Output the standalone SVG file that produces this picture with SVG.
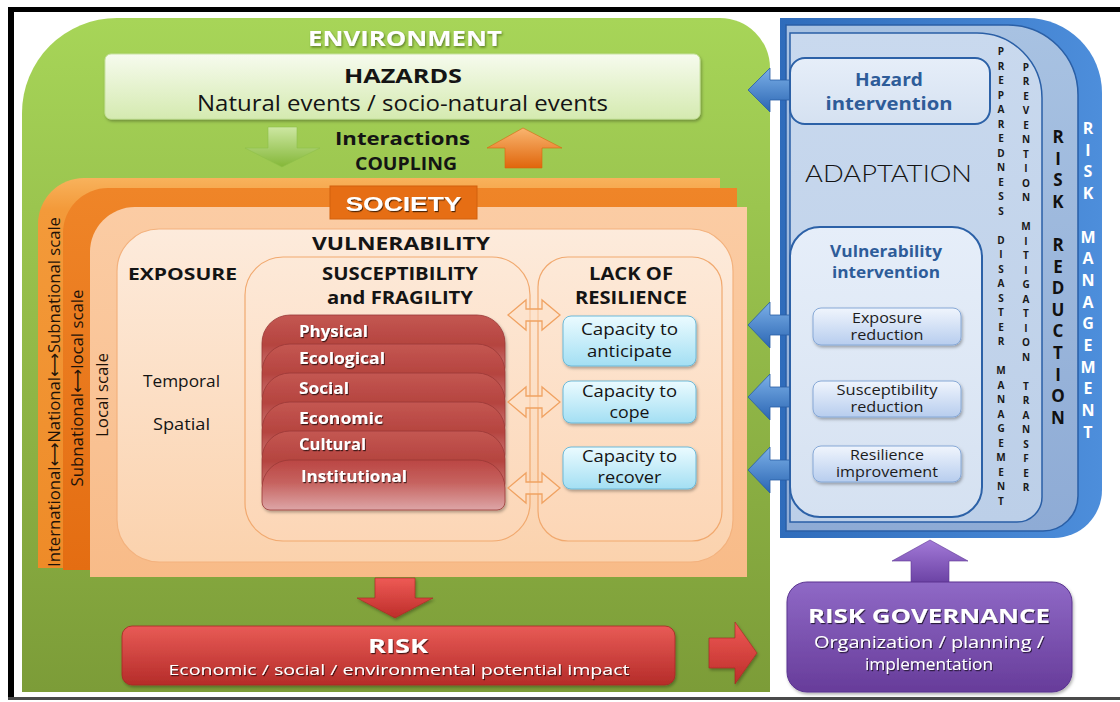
<svg xmlns="http://www.w3.org/2000/svg" width="1120" height="702" viewBox="0 0 1120 702">
<defs>
  <linearGradient id="gEnv" x1="0" y1="0" x2="0" y2="1">
    <stop offset="0" stop-color="#a7d558"/><stop offset="1" stop-color="#7c9c38"/>
  </linearGradient>
  <linearGradient id="gHaz" x1="0" y1="0" x2="0" y2="1">
    <stop offset="0" stop-color="#f6fbee"/><stop offset="1" stop-color="#d5eab0"/>
  </linearGradient>
  <linearGradient id="gGreenArrow" x1="0" y1="0" x2="0" y2="1">
    <stop offset="0" stop-color="#cde7a2"/><stop offset="1" stop-color="#84b738"/>
  </linearGradient>
  <linearGradient id="gOrangeArrow" x1="0" y1="0" x2="0" y2="1">
    <stop offset="0" stop-color="#f9b570"/><stop offset="1" stop-color="#e0660c"/>
  </linearGradient>
  <linearGradient id="gL1" x1="0" y1="0" x2="0" y2="1">
    <stop offset="0" stop-color="#f8b25c"/><stop offset="0.08" stop-color="#f39a3a"/><stop offset="1" stop-color="#ee8b28"/>
  </linearGradient>
  <linearGradient id="gL2" x1="0" y1="0" x2="0" y2="1">
    <stop offset="0" stop-color="#ef8528"/><stop offset="1" stop-color="#e46d12"/>
  </linearGradient>
  <linearGradient id="gL3" x1="0" y1="0" x2="0" y2="1">
    <stop offset="0" stop-color="#fbcca4"/><stop offset="1" stop-color="#f8bb88"/>
  </linearGradient>
  <linearGradient id="gVul" x1="0" y1="0" x2="0" y2="1">
    <stop offset="0" stop-color="#fdebdc"/><stop offset="1" stop-color="#fbd2ad"/>
  </linearGradient>
  <linearGradient id="gSub" x1="0" y1="0" x2="0" y2="1">
    <stop offset="0" stop-color="#fde9d8"/><stop offset="1" stop-color="#fcd6b6"/>
  </linearGradient>
  <linearGradient id="gRed" x1="0" y1="0" x2="0" y2="1">
    <stop offset="0" stop-color="#c45752"/><stop offset="0.5" stop-color="#b5443f"/><stop offset="1" stop-color="#cf7f7d"/>
  </linearGradient>
  <linearGradient id="gRedLast" x1="0" y1="0" x2="0" y2="1">
    <stop offset="0" stop-color="#bb4643"/><stop offset="0.45" stop-color="#c6625f"/><stop offset="1" stop-color="#dda6a7"/>
  </linearGradient>
  <linearGradient id="gCap" x1="0" y1="0" x2="0" y2="1">
    <stop offset="0" stop-color="#ebfbff"/><stop offset="1" stop-color="#a3dff3"/>
  </linearGradient>
  <linearGradient id="gRiskBox" x1="0" y1="0" x2="0" y2="1">
    <stop offset="0" stop-color="#e85b56"/><stop offset="1" stop-color="#b52c29"/>
  </linearGradient>
  <linearGradient id="gRedArrow" x1="0" y1="0" x2="0" y2="1">
    <stop offset="0" stop-color="#ee5a55"/><stop offset="1" stop-color="#bd2d2a"/>
  </linearGradient>
  <linearGradient id="gBlueOuter" x1="0" y1="0" x2="1" y2="0">
    <stop offset="0" stop-color="#2f6cbb"/><stop offset="1" stop-color="#4d8edb"/>
  </linearGradient>
  <linearGradient id="gBlueL2" x1="0" y1="0" x2="0" y2="1">
    <stop offset="0" stop-color="#a8c2e2"/><stop offset="1" stop-color="#8eabd5"/>
  </linearGradient>
  <linearGradient id="gPanel" x1="0" y1="0" x2="0" y2="1">
    <stop offset="0" stop-color="#c9d9ee"/><stop offset="1" stop-color="#bccfe8"/>
  </linearGradient>
  <linearGradient id="gBox" x1="0" y1="0" x2="0" y2="1">
    <stop offset="0" stop-color="#e6eef9"/><stop offset="1" stop-color="#d5e1f1"/>
  </linearGradient>
  <linearGradient id="gSmall" x1="0" y1="0" x2="0" y2="1">
    <stop offset="0" stop-color="#f0f5fd"/><stop offset="1" stop-color="#b7cdee"/>
  </linearGradient>
  <linearGradient id="gBlueArrow" x1="0" y1="0" x2="0" y2="1">
    <stop offset="0" stop-color="#7cb0e8"/><stop offset="1" stop-color="#2b66b3"/>
  </linearGradient>
  <linearGradient id="gPurple" x1="0" y1="0" x2="0" y2="1">
    <stop offset="0" stop-color="#8f69c6"/><stop offset="1" stop-color="#673c9a"/>
  </linearGradient>
  <linearGradient id="gPurpleArrow" x1="0" y1="0" x2="0" y2="1">
    <stop offset="0" stop-color="#a37ad8"/><stop offset="1" stop-color="#6b42a4"/>
  </linearGradient>
  <filter id="ds" x="-10%" y="-20%" width="125%" height="150%">
    <feDropShadow dx="1.2" dy="2" stdDeviation="1.4" flood-color="#000" flood-opacity="0.3"/>
  </filter>
  <filter id="ts" x="-5%" y="-20%" width="115%" height="150%">
    <feDropShadow dx="1" dy="1.2" stdDeviation="0.5" flood-color="#000" flood-opacity="0.65"/>
  </filter>
  <filter id="tsg" x="-5%" y="-20%" width="115%" height="150%">
    <feDropShadow dx="1" dy="1.5" stdDeviation="0.8" flood-color="#3d5a16" flood-opacity="0.7"/>
  </filter>
</defs>
<style>
  text{font-family:"Open Sans","Liberation Sans",Arial,sans-serif;fill:#141414}
  .b{font-weight:700}
  .m{text-anchor:middle}
  .w{fill:#fff}
  .sh{filter:url(#ts)}
  .pane{fill:url(#gSub);stroke:#f1a96f;stroke-width:1.2}
  .red{fill:url(#gRed);stroke:#9b3836;stroke-width:0.8}
  .rl{font-size:16.5px;font-weight:700;fill:#fff;filter:url(#ts)}
  .cap{fill:url(#gCap);stroke:#6cb9d8;stroke-width:1;filter:url(#ds)}
  .ct{font-size:16.5px;text-anchor:middle}
  .dbl{fill:#fde2ca;fill-opacity:0.55;stroke:#f0a262;stroke-width:1.3}
  .sm{fill:url(#gSmall);stroke:#86a8d6;stroke-width:1;filter:url(#ds)}
  .st{font-size:14.5px;text-anchor:middle;fill:#1c1c1c}
  .ib{fill:url(#gBox);stroke:#2c61a7;stroke-width:2}
  .it{font-size:17.5px;font-weight:700;text-anchor:middle;fill:#2e5c99}
  .ba{fill:url(#gBlueArrow);stroke:#2a5ea5;stroke-width:0.8}
  .ca{font-size:10px;font-weight:700;text-anchor:middle;fill:#1a1a1a}
  .cr{font-size:17px;font-weight:700;text-anchor:middle;fill:#111}
  .cm{font-size:16px;font-weight:700;text-anchor:middle;fill:#fff}
  .sc{font-family:"Open Sans","Liberation Sans",Arial,sans-serif;font-size:16.5px;text-anchor:middle;fill:#1e1208}
  .arr{font-family:"DejaVu Sans",sans-serif;font-size:16.5px}
</style>

<rect x="0" y="0" width="1120" height="702" fill="#fff"/>
<!-- frame -->
<rect x="8" y="7" width="1112" height="5" fill="#000"/>
<rect x="8" y="7" width="6" height="693" fill="#000"/>
<rect x="8" y="697" width="1112" height="3" fill="#4a4a4a"/>

<!-- environment -->
<g id="environment">
  <path d="M22,113 A95,95 0 0 1 117,18 H720 A50,50 0 0 1 770,68 V692 H22 Z" fill="url(#gEnv)"/>
  <text x="405" y="46" class="b m w" font-size="21" textLength="194" lengthAdjust="spacingAndGlyphs" filter="url(#tsg)">ENVIRONMENT</text>
</g>

<!-- hazards -->
<g id="hazards">
  <rect x="105" y="54" width="595" height="65" rx="6" fill="url(#gHaz)" stroke="#c7e2a0" stroke-width="1" filter="url(#ds)"/>
  <text x="403" y="83" class="b m" font-size="20" textLength="118" lengthAdjust="spacingAndGlyphs">HAZARDS</text>
  <text x="402.5" y="111" class="m" font-size="21.5" textLength="411" lengthAdjust="spacingAndGlyphs">Natural events / socio-natural events</text>
</g>

<g id="interactions">
  <text x="402.5" y="145" class="b m" font-size="18.5" textLength="135" lengthAdjust="spacingAndGlyphs">Interactions</text>
  <text x="406" y="170" class="b m" font-size="17" textLength="102" lengthAdjust="spacingAndGlyphs">COUPLING</text>
</g>

<!-- society: nested scale layers -->
<g id="society">
  <path d="M38,568 V224 A46,46 0 0 1 84,178 H720 V568 Z" fill="url(#gL1)"/>
  <path d="M63,570 V233 A45,45 0 0 1 108,188 H737 V570 Z" fill="url(#gL2)"/>
  <path d="M90,577 V252 A45,45 0 0 1 135,207 H747 V577 Z" fill="url(#gL3)"/>
  <text transform="translate(60,392) rotate(-90)" class="sc" textLength="350" lengthAdjust="spacingAndGlyphs">International<tspan class="arr">⟷</tspan>National<tspan class="arr">⟷</tspan>Subnational scale</text>
  <text transform="translate(83,388) rotate(-90)" class="sc" textLength="197" lengthAdjust="spacingAndGlyphs">Subnational<tspan class="arr">⟷</tspan>local scale</text>
  <text transform="translate(108,395) rotate(-90)" class="sc" textLength="84" lengthAdjust="spacingAndGlyphs">Local scale</text>
  <rect x="330" y="186" width="147" height="33" fill="#e66e14" stroke="#d2600c" stroke-width="1"/>
  <text x="403.5" y="211" class="b m w sh" font-size="21" style="font-family:'Liberation Sans',Arial,sans-serif" textLength="116" lengthAdjust="spacingAndGlyphs">SOCIETY</text>
</g>

<!-- vulnerability -->
<g id="vulnerability">
  <rect x="117" y="229" width="616" height="333" rx="42" fill="url(#gVul)" stroke="#f3b27e" stroke-width="1.2"/>
  <text x="401" y="250" class="b m" font-size="18" textLength="178" lengthAdjust="spacingAndGlyphs">VULNERABILITY</text>
</g>

<g id="exposure">
  <text x="182.5" y="280" class="b m" font-size="16.5" textLength="109" lengthAdjust="spacingAndGlyphs">EXPOSURE</text>
  <text x="181.5" y="387" class="m" font-size="16" textLength="77" lengthAdjust="spacingAndGlyphs">Temporal</text>
  <text x="181.5" y="430" class="m" font-size="16" textLength="57" lengthAdjust="spacingAndGlyphs">Spatial</text>
</g>

<g id="susceptibility">
  <rect class="pane" x="245" y="257" width="285" height="284" rx="38"/>
  <text x="400" y="280" class="b m" font-size="18" textLength="156" lengthAdjust="spacingAndGlyphs">SUSCEPTIBILITY</text>
  <text x="400" y="304" class="b m" font-size="18" textLength="146" lengthAdjust="spacingAndGlyphs">and FRAGILITY</text>
  <g filter="url(#ds)">
    <path class="red" d="M262,367 V343 A28,28 0 0 1 290,315 H477 A28,28 0 0 1 505,343 V367 A8,8 0 0 1 497,375 H270 A8,8 0 0 1 262,367 Z"/>
    <path class="red" d="M262,396 V372 A28,28 0 0 1 290,344 H477 A28,28 0 0 1 505,372 V396 A8,8 0 0 1 497,404 H270 A8,8 0 0 1 262,396 Z"/>
    <path class="red" d="M262,425 V401 A28,28 0 0 1 290,373 H477 A28,28 0 0 1 505,401 V425 A8,8 0 0 1 497,433 H270 A8,8 0 0 1 262,425 Z"/>
    <path class="red" d="M262,454 V430 A28,28 0 0 1 290,402 H477 A28,28 0 0 1 505,430 V454 A8,8 0 0 1 497,462 H270 A8,8 0 0 1 262,454 Z"/>
    <path class="red" d="M262,483 V459 A28,28 0 0 1 290,431 H477 A28,28 0 0 1 505,459 V483 A8,8 0 0 1 497,491 H270 A8,8 0 0 1 262,483 Z"/>
    <path d="M262,502 V488 A28,28 0 0 1 290,460 H477 A28,28 0 0 1 505,488 V502 A8,8 0 0 1 497,510 H270 A8,8 0 0 1 262,502 Z" fill="url(#gRedLast)" stroke="#9b3836" stroke-width="0.8"/>
  </g>
  <text x="299" y="337" class="rl" textLength="69" lengthAdjust="spacingAndGlyphs">Physical</text>
  <text x="299" y="364" class="rl" textLength="86" lengthAdjust="spacingAndGlyphs">Ecological</text>
  <text x="299" y="394" class="rl" textLength="50" lengthAdjust="spacingAndGlyphs">Social</text>
  <text x="299" y="424" class="rl" textLength="84" lengthAdjust="spacingAndGlyphs">Economic</text>
  <text x="299" y="450" class="rl" textLength="67" lengthAdjust="spacingAndGlyphs">Cultural</text>
  <text x="301" y="482" class="rl" textLength="106" lengthAdjust="spacingAndGlyphs">Institutional</text>
</g>

<g id="resilience">
  <rect class="pane" x="538" y="257" width="184" height="284" rx="30"/>
  <text x="631" y="280" class="b m" font-size="18" textLength="84" lengthAdjust="spacingAndGlyphs">LACK OF</text>
  <text x="631" y="304" class="b m" font-size="18" textLength="112" lengthAdjust="spacingAndGlyphs">RESILIENCE</text>
  <rect class="cap" x="563" y="316" width="133" height="50" rx="8"/>
  <text x="629.5" y="335" class="ct" textLength="97" lengthAdjust="spacingAndGlyphs">Capacity to</text>
  <text x="629.5" y="357" class="ct" textLength="85" lengthAdjust="spacingAndGlyphs">anticipate</text>
  <rect class="cap" x="563" y="381" width="133" height="42" rx="8"/>
  <text x="629.5" y="397" class="ct" textLength="95" lengthAdjust="spacingAndGlyphs">Capacity to</text>
  <text x="629.5" y="418" class="ct" textLength="40" lengthAdjust="spacingAndGlyphs">cope</text>
  <rect class="cap" x="563" y="447" width="133" height="42" rx="8"/>
  <text x="629.5" y="462" class="ct" textLength="95" lengthAdjust="spacingAndGlyphs">Capacity to</text>
  <text x="629.5" y="483" class="ct" textLength="64" lengthAdjust="spacingAndGlyphs">recover</text>
</g>

<!-- risk -->
<g id="risk">
  <rect x="122" y="626" width="553" height="59" rx="10" fill="url(#gRiskBox)" stroke="#a82624" stroke-width="0.8" filter="url(#ds)"/>
  <text x="398" y="653" class="b m w sh" font-size="20" textLength="60" lengthAdjust="spacingAndGlyphs">RISK</text>
  <text x="399" y="675" class="m w sh" font-size="15" textLength="461" lengthAdjust="spacingAndGlyphs">Economic / social / environmental potential impact</text>
</g>

<!-- risk management: nested management layers -->
<g id="risk-management">
  <path d="M780,18 H1027 A75,75 0 0 1 1102,93 V490 A48,48 0 0 1 1054,538 H780 Z" fill="url(#gBlueOuter)"/>
  <path d="M786,25 H1008 A70,70 0 0 1 1078,95 V496 A35,35 0 0 1 1043,531 H786 Z" fill="url(#gBlueL2)" stroke="#2a5fa6" stroke-width="1.5"/>
  <path d="M790,33 H977 A65,65 0 0 1 1042,98 V497 A25,25 0 0 1 1017,522 H790 Z" fill="url(#gPanel)" stroke="#2a5fa6" stroke-width="1.5"/>
  <text x="805" y="182" font-size="23" fill="#1c1c1c" style="font-family:Lato,'Liberation Sans',sans-serif;font-weight:300" textLength="167" lengthAdjust="spacingAndGlyphs">ADAPTATION</text>
  <text class="ca"><tspan x="1001" y="55">P</tspan><tspan x="1001" dy="14.5">R</tspan><tspan x="1001" dy="14.5">E</tspan><tspan x="1001" dy="14.5">P</tspan><tspan x="1001" dy="14.5">A</tspan><tspan x="1001" dy="14.5">R</tspan><tspan x="1001" dy="14.5">E</tspan><tspan x="1001" dy="14.5">D</tspan><tspan x="1001" dy="14.5">N</tspan><tspan x="1001" dy="14.5">E</tspan><tspan x="1001" dy="14.5">S</tspan><tspan x="1001" dy="14.5">S</tspan><tspan x="1001" dy="29">D</tspan><tspan x="1001" dy="14.5">I</tspan><tspan x="1001" dy="14.5">S</tspan><tspan x="1001" dy="14.5">A</tspan><tspan x="1001" dy="14.5">S</tspan><tspan x="1001" dy="14.5">T</tspan><tspan x="1001" dy="14.5">E</tspan><tspan x="1001" dy="14.5">R</tspan><tspan x="1001" dy="29">M</tspan><tspan x="1001" dy="14.5">A</tspan><tspan x="1001" dy="14.5">N</tspan><tspan x="1001" dy="14.5">A</tspan><tspan x="1001" dy="14.5">G</tspan><tspan x="1001" dy="14.5">E</tspan><tspan x="1001" dy="14.5">M</tspan><tspan x="1001" dy="14.5">E</tspan><tspan x="1001" dy="14.5">N</tspan><tspan x="1001" dy="14.5">T</tspan></text>
  <text class="ca"><tspan x="1026" y="70.5">P</tspan><tspan x="1026" dy="14.5">R</tspan><tspan x="1026" dy="14.5">E</tspan><tspan x="1026" dy="14.5">V</tspan><tspan x="1026" dy="14.5">E</tspan><tspan x="1026" dy="14.5">N</tspan><tspan x="1026" dy="14.5">T</tspan><tspan x="1026" dy="14.5">I</tspan><tspan x="1026" dy="14.5">O</tspan><tspan x="1026" dy="14.5">N</tspan><tspan x="1026" dy="29">M</tspan><tspan x="1026" dy="14.5">I</tspan><tspan x="1026" dy="14.5">T</tspan><tspan x="1026" dy="14.5">I</tspan><tspan x="1026" dy="14.5">G</tspan><tspan x="1026" dy="14.5">A</tspan><tspan x="1026" dy="14.5">T</tspan><tspan x="1026" dy="14.5">I</tspan><tspan x="1026" dy="14.5">O</tspan><tspan x="1026" dy="14.5">N</tspan><tspan x="1026" dy="29">T</tspan><tspan x="1026" dy="14.5">R</tspan><tspan x="1026" dy="14.5">A</tspan><tspan x="1026" dy="14.5">N</tspan><tspan x="1026" dy="14.5">S</tspan><tspan x="1026" dy="14.5">F</tspan><tspan x="1026" dy="14.5">E</tspan><tspan x="1026" dy="14.5">R</tspan></text>
  <text class="cr"><tspan x="1058" y="143">R</tspan><tspan x="1058" dy="21.6">I</tspan><tspan x="1058" dy="21.6">S</tspan><tspan x="1058" dy="21.6">K</tspan><tspan x="1058" dy="43.2">R</tspan><tspan x="1058" dy="21.6">E</tspan><tspan x="1058" dy="21.6">D</tspan><tspan x="1058" dy="21.6">U</tspan><tspan x="1058" dy="21.6">C</tspan><tspan x="1058" dy="21.6">T</tspan><tspan x="1058" dy="21.6">I</tspan><tspan x="1058" dy="21.6">O</tspan><tspan x="1058" dy="21.6">N</tspan></text>
  <text class="cm"><tspan x="1088" y="134">R</tspan><tspan x="1088" dy="21.7">I</tspan><tspan x="1088" dy="21.7">S</tspan><tspan x="1088" dy="21.7">K</tspan><tspan x="1088" dy="43.4">M</tspan><tspan x="1088" dy="21.7">A</tspan><tspan x="1088" dy="21.7">N</tspan><tspan x="1088" dy="21.7">A</tspan><tspan x="1088" dy="21.7">G</tspan><tspan x="1088" dy="21.7">E</tspan><tspan x="1088" dy="21.7">M</tspan><tspan x="1088" dy="21.7">E</tspan><tspan x="1088" dy="21.7">N</tspan><tspan x="1088" dy="21.7">T</tspan></text>
</g>

<!-- connectors -->
<g id="connectors">
  <path d="M268,127 H297 V148 H320 L282,167 L245,148 H268 Z" fill="url(#gGreenArrow)" stroke="#8fbf4a" stroke-width="0.6"/>
  <path d="M523,128 L562,148 H542 V168 H505 V148 H487 Z" fill="url(#gOrangeArrow)" stroke="#d8650f" stroke-width="0.6"/>
  <path class="dbl" d="M508,315 L526,300 V309 H542 V300 L560,315 L542,330 V321 H526 V330 Z"/>
  <path class="dbl" d="M508,402 L526,387 V396 H542 V387 L560,402 L542,417 V408 H526 V417 Z"/>
  <path class="dbl" d="M508,488 L526,473 V482 H542 V473 L560,488 L542,503 V494 H526 V503 Z"/>
  <path d="M375,578 H415 V598 H433 L395,618 L357,598 H375 Z" fill="url(#gRedArrow)" stroke="#a52724" stroke-width="0.6" filter="url(#ds)"/>
  <path d="M709,638 H735 V622 L757,653 L735,684 V668 H709 Z" fill="url(#gRedArrow)" stroke="#a52724" stroke-width="0.6" filter="url(#ds)"/>
  <path class="ba" d="M748,90 L770,68 V80 H795 V100 H770 V112 Z"/>
  <path class="ba" d="M748,325 L770,302 V315 H795 V335 H770 V348 Z"/>
  <path class="ba" d="M748,397 L770,374 V387 H795 V407 H770 V420 Z"/>
  <path class="ba" d="M748,470 L770,447 V460 H795 V480 H770 V493 Z"/>
  <path d="M930,540 L968,561 H949 V583 H911 V561 H892 Z" fill="url(#gPurpleArrow)" stroke="#5e3595" stroke-width="0.6"/>
</g>

<g id="hazard-intervention">
  <rect class="ib" x="790" y="58" width="200" height="66" rx="15"/>
  <text x="889" y="86" class="it" textLength="68" lengthAdjust="spacingAndGlyphs">Hazard</text>
  <text x="889" y="110" class="it" textLength="127" lengthAdjust="spacingAndGlyphs">intervention</text>
</g>

<g id="vulnerability-intervention">
  <rect class="ib" x="790" y="227" width="192" height="290" rx="30"/>
  <text x="886" y="257" class="it" style="font-size:16.5px" textLength="112" lengthAdjust="spacingAndGlyphs">Vulnerability</text>
  <text x="886" y="278" class="it" style="font-size:16.5px" textLength="108" lengthAdjust="spacingAndGlyphs">intervention</text>
  <g id="exposure-reduction">
    <rect class="sm" x="813" y="308" width="148" height="37" rx="8"/>
    <text x="887" y="323" class="st" textLength="70" lengthAdjust="spacingAndGlyphs">Exposure</text>
    <text x="887" y="340" class="st" textLength="73" lengthAdjust="spacingAndGlyphs">reduction</text>
  </g>
  <g id="susceptibility-reduction">
    <rect class="sm" x="813" y="381" width="148" height="36" rx="8"/>
    <text x="887" y="395" class="st" textLength="101" lengthAdjust="spacingAndGlyphs">Susceptibility</text>
    <text x="887" y="412" class="st" textLength="73" lengthAdjust="spacingAndGlyphs">reduction</text>
  </g>
  <g id="resilience-improvement">
    <rect class="sm" x="813" y="446" width="148" height="36" rx="8"/>
    <text x="887" y="460" class="st" textLength="74" lengthAdjust="spacingAndGlyphs">Resilience</text>
    <text x="887" y="477" class="st" textLength="102" lengthAdjust="spacingAndGlyphs">improvement</text>
  </g>
</g>

<g id="risk-governance">
  <rect x="787" y="582" width="285" height="110" rx="20" fill="url(#gPurple)" stroke="#5a3490" stroke-width="1" filter="url(#ds)"/>
  <text x="929" y="623" class="b m w sh" font-size="19.5" textLength="242" lengthAdjust="spacingAndGlyphs">RISK GOVERNANCE</text>
  <text x="929" y="648" class="m w sh" font-size="15.5" textLength="230" lengthAdjust="spacingAndGlyphs">Organization / planning /</text>
  <text x="929" y="670" class="m w sh" font-size="15.5" textLength="128" lengthAdjust="spacingAndGlyphs">implementation</text>
</g>
</svg>
